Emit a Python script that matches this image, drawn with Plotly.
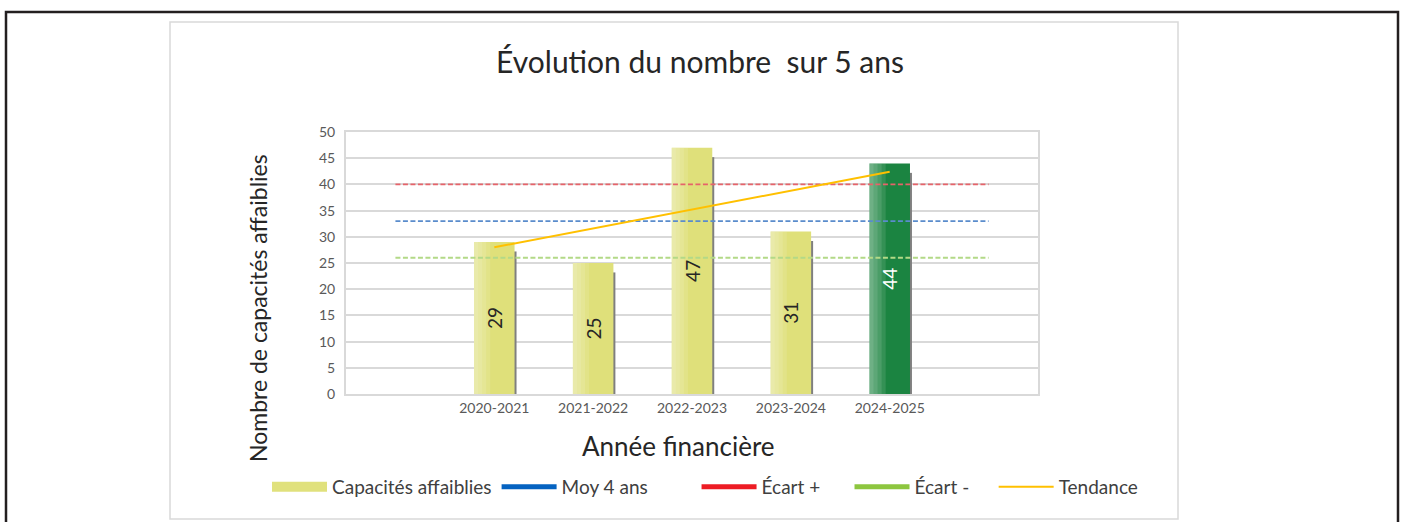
import plotly.graph_objects as go

# ---- data ----
years = ["2020-2021", "2021-2022", "2022-2023", "2023-2024", "2024-2025"]
capacites = [29, 25, 47, 31, 44]
moy_4_ans = 33
ecart_plus = 40
ecart_moins = 26
tendance = [28.0, 31.6, 35.2, 38.8, 42.4]
slots = [" "] + years + ["  "]  # empty slots at both ends of the axis

bar_colors = ["#dfe07a", "#dfe07a", "#dfe07a", "#dfe07a", "#1b8441"]
text_colors = ["#262626", "#262626", "#262626", "#262626", "#ffffff"]

W, H = 1403, 522
L, R, T, B = 346, 1038, 132, 394  # plot area pixels


def px(xp):
    return (xp - L) / (R - L)


def py(yp):
    return (B - yp) / (B - T)


FONT = "Lato, 'Open Sans', sans-serif"
BW = 0.41          # bar width (category units)
SHADOW_DROP = 1.8  # shadow starts a little below the bar top

fig = go.Figure()

# bar shadows (thin gray strip on the right of each bar)
fig.add_trace(go.Bar(
    x=years, y=[v - SHADOW_DROP for v in capacites], width=0.03, offset=BW / 2 - 0.01,
    marker=dict(color="#7f7f7f", line=dict(width=0)), showlegend=False, hoverinfo="skip",
))
# bars
fig.add_trace(go.Bar(
    x=years, y=capacites, width=BW, offset=-BW / 2,
    marker=dict(color=bar_colors, line=dict(width=0)),
    showlegend=False, hoverinfo="x+y",
))
# soft light sheen on the left part of each bar
for wfrac in [0.05, 0.10, 0.15, 0.20]:
    fig.add_trace(go.Bar(
        x=years, y=capacites, width=BW * wfrac * 2, offset=-BW / 2,
        marker=dict(color="rgba(255,255,255,0.11)", line=dict(width=0)),
        showlegend=False, hoverinfo="skip",
    ))
# value labels
fig.add_trace(go.Bar(
    x=years, y=capacites, width=BW, offset=-BW / 2,
    marker=dict(color="rgba(0,0,0,0)", line=dict(width=0)),
    text=[str(v) for v in capacites], textposition="inside",
    insidetextanchor="middle", textangle=-90,
    textfont=dict(size=19, color=text_colors, family=FONT),
    showlegend=False, hoverinfo="skip", cliponaxis=False,
))

# reference lines
for val, col in [(ecart_moins, "#b3d987"), (moy_4_ans, "#5a8ccc"), (ecart_plus, "#e6636a")]:
    fig.add_trace(go.Scatter(
        x=slots, y=[val] * len(slots), mode="lines",
        line=dict(color=col, width=1.8, dash="5px,2.5px"), showlegend=False,
    ))

# trend line
fig.add_trace(go.Scatter(
    x=years, y=tendance, mode="lines", line=dict(color="#ffc000", width=2),
    showlegend=False,
))

# legend entries
NB = "\u00a0"
legend_items = [
    ("Capacités affaiblies", "#e0e17c", 12),
    ("Moy 4 ans" + NB * 9, "#0563c1", 5),
    ("Écart +" + NB * 5, "#ed1c24", 5),
    ("Écart -" + NB * 4, "#8dc63f", 5),
    ("Tendance", "#ffc000", 2),
]
for name, col, w in legend_items:
    fig.add_trace(go.Scatter(x=[None], y=[None], mode="lines", name=name,
                             line=dict(color=col, width=w)))

grid = "#d9d9d9"
fig.update_layout(
    width=W, height=H,
    margin=dict(l=L, r=W - R, t=T, b=H - B),
    paper_bgcolor="white", plot_bgcolor="white",
    font=dict(family=FONT, color="#595959"),
    barmode="overlay",
    title=dict(text="Évolution du nombre  sur 5 ans", x=700 / W, xanchor="center",
               y=1 - 62 / H, yanchor="middle",
               font=dict(size=30, color="#262626", family=FONT)),
    xaxis=dict(type="category", categoryorder="array", categoryarray=slots,
               range=[-0.5, len(slots) - 0.5], showgrid=False,
               showline=True, linecolor=grid, linewidth=2, mirror=True,
               ticks="", tickfont=dict(size=14, color="#595959"), fixedrange=True),
    yaxis=dict(range=[0, 50], dtick=5, showgrid=True, gridcolor=grid, gridwidth=2,
               showline=True, linecolor=grid, linewidth=2, mirror=True,
               zeroline=False, ticks="", tickfont=dict(size=14, color="#595959"),
               ticklabelstandoff=6, fixedrange=True),
    legend=dict(orientation="h", xref="paper", yref="paper",
                x=px(267), xanchor="left", y=py(487), yanchor="middle",
                font=dict(size=19, color="#404040"), itemwidth=55,
                bgcolor="rgba(0,0,0,0)"),
    annotations=[
        dict(text="Nombre de capacités affaiblies", xref="paper", yref="paper",
             x=px(258), y=py(308), textangle=-90, showarrow=False,
             xanchor="center", yanchor="middle",
             font=dict(size=23, color="#262626", family=FONT)),
        dict(text="Année financière", xref="paper", yref="paper",
             x=px(678), y=py(446), showarrow=False, xanchor="center", yanchor="middle",
             font=dict(size=26, color="#262626", family=FONT)),
    ],
    shapes=[
        dict(type="rect", xref="paper", yref="paper", x0=px(170), x1=px(1178),
             y0=py(519), y1=py(22), line=dict(color="#d9d9d9", width=1.5), layer="below"),
        dict(type="rect", xref="paper", yref="paper", x0=px(6), x1=px(1398),
             y0=py(540), y1=py(12), line=dict(color="#231f20", width=2.5), layer="below"),
    ],
)

fig.write_html("out.html", config={"displayModeBar": False},
               post_script="document.body.style.margin='0';")
